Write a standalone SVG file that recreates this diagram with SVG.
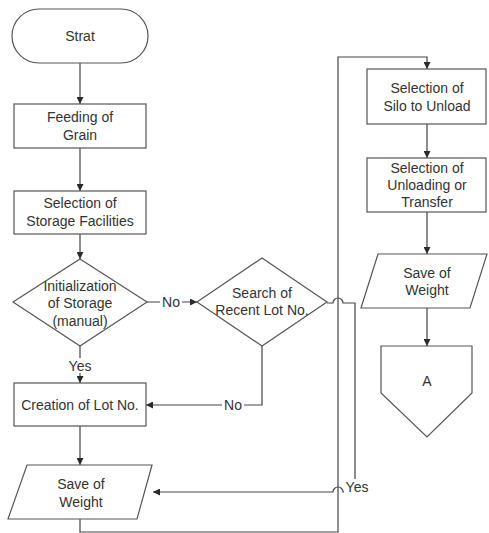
<svg xmlns="http://www.w3.org/2000/svg" width="489" height="533" viewBox="0 0 489 533">
<defs>
<marker id="arr" viewBox="0 0 10 10" refX="10" refY="5" markerWidth="7" markerHeight="7" markerUnits="userSpaceOnUse" orient="auto">
<path d="M0,0 L10,5 L0,10 z" fill="#2a2a2a"/>
</marker>
<style>
.n{fill:#fff;stroke:#555;stroke-width:1.2}
.t{font-family:"Liberation Sans",Arial,sans-serif;font-size:14px;fill:#333;text-anchor:middle}
.c{fill:none;stroke:#444;stroke-width:1.2}
.lb{fill:#fff}
</style>
</defs>
<rect width="489" height="533" fill="#fff"/>
<g id="connectors">
<path class="c" d="M80,63 V104" marker-end="url(#arr)"/>
<path class="c" d="M80,148 V191" marker-end="url(#arr)"/>
<path class="c" d="M80,234 V259" marker-end="url(#arr)"/>
<path class="c" d="M147,302 H197" marker-end="url(#arr)"/>
<path class="c" d="M80,346 V383" marker-end="url(#arr)"/>
<path class="c" d="M262,346 V405 H146" marker-end="url(#arr)"/>
<path class="c" d="M80,426 V465" marker-end="url(#arr)"/>
<path class="c" d="M80,519 V532 H338 V57 H427 V69" marker-end="url(#arr)"/>
<path class="c" d="M327,303 H333 A5,5 0 0 1 343,303 H355 V492 H343 A5,5 0 0 0 333,492 H153" marker-end="url(#arr)"/>
<path class="c" d="M427,124 V158" marker-end="url(#arr)"/>
<path class="c" d="M427,212 V254" marker-end="url(#arr)"/>
<path class="c" d="M427,308 V346" marker-end="url(#arr)"/>
<rect class="lb" x="160" y="295" width="22" height="14"/>
<text class="t" x="171" y="307">No</text>
<rect class="lb" x="67" y="358" width="26" height="15"/>
<text class="t" x="80" y="371">Yes</text>
<rect class="lb" x="222" y="398" width="22" height="14"/>
<text class="t" x="233" y="410">No</text>
<rect class="lb" x="344" y="479" width="26" height="15"/>
<text class="t" x="357" y="492">Yes</text>
</g>
<g id="start">
<rect class="n" x="12" y="9" width="136" height="54" rx="27"/>
<text class="t" x="80" y="41">Strat</text>
</g>
<g id="feeding">
<rect class="n" x="14" y="104" width="132" height="44"/>
<text class="t" x="80" y="122">Feeding of</text>
<text class="t" x="80" y="140">Grain</text>
</g>
<g id="storage">
<rect class="n" x="14" y="191" width="132" height="43"/>
<text class="t" x="80" y="208">Selection of</text>
<text class="t" x="80" y="226">Storage Facilities</text>
</g>
<g id="init">
<polygon class="n" points="80,259 147,302 80,346 13,302"/>
<text class="t" x="80" y="291">Initialization</text>
<text class="t" x="80" y="308">of Storage</text>
<text class="t" x="80" y="326">(manual)</text>
</g>
<g id="search">
<polygon class="n" points="262,258 327,302 262,346 197,302"/>
<text class="t" x="262" y="298">Search of</text>
<text class="t" x="262" y="315">Recent Lot No.</text>
</g>
<g id="creation">
<rect class="n" x="14" y="383" width="132" height="43"/>
<text class="t" x="80" y="410">Creation of Lot No.</text>
</g>
<g id="save1">
<polygon class="n" points="27,465 152,465 137,519 8,519"/>
<text class="t" x="81" y="489">Save of</text>
<text class="t" x="81" y="507">Weight</text>
</g>
<g id="silo">
<rect class="n" x="367" y="69" width="119" height="55"/>
<text class="t" x="427" y="93">Selection of</text>
<text class="t" x="427" y="111">Silo to Unload</text>
</g>
<g id="unloading">
<rect class="n" x="367" y="158" width="119" height="54"/>
<text class="t" x="427" y="173">Selection of</text>
<text class="t" x="427" y="190">Unloading or</text>
<text class="t" x="427" y="207">Transfer</text>
</g>
<g id="save2">
<polygon class="n" points="378,254 487,254 470,308 361,308"/>
<text class="t" x="427" y="278">Save of</text>
<text class="t" x="427" y="295">Weight</text>
</g>
<g id="connectorA">
<polygon class="n" points="381,346 472,346 472,393 427,437 381,393"/>
<text class="t" x="427" y="386">A</text>
</g>
</svg>
